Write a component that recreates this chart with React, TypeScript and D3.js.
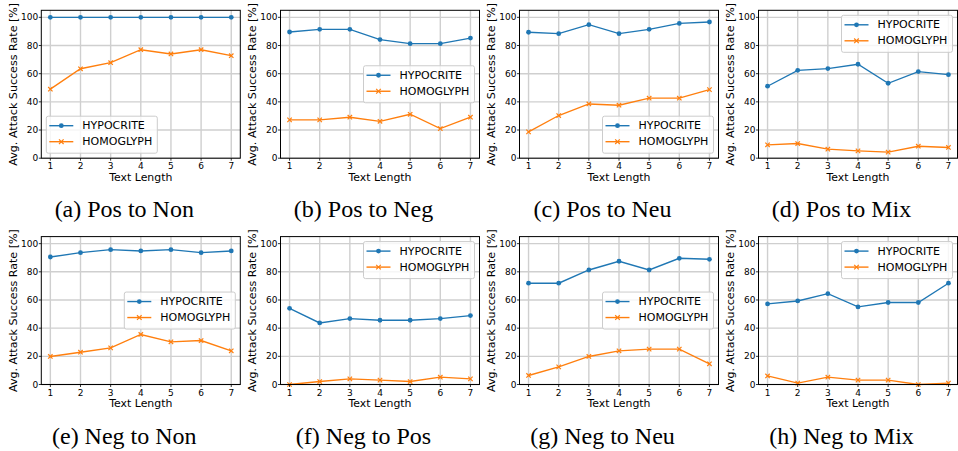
import React from "react";
import * as d3 from "d3";

// x values (text length)
const textLengths = [1, 2, 3, 4, 5, 6, 7];
const yTicks = [0, 20, 40, 60, 80, 100];

// attack success rate per panel
const hypPosNon = [100, 100, 100, 100, 100, 100, 100];
const homPosNon = [49, 63.5, 67.8, 77, 74, 77, 72.8];
const hypPosNeg = [89.6, 91.5, 91.5, 84.2, 81.3, 81.3, 85.3];
const homPosNeg = [27.2, 27.2, 29.1, 26.2, 31.2, 21, 29.1];
const hypPosNeu = [89.4, 88.4, 94.8, 88.4, 91.5, 95.7, 96.7];
const homPosNeu = [18.7, 30.3, 38.5, 37.6, 42.6, 42.6, 48.7];
const hypPosMix = [51.1, 62.4, 63.6, 66.7, 53.2, 61.5, 59.3];
const homPosMix = [9.5, 10.4, 6.4, 5.2, 4.3, 8.5, 7.6];
const hypNegNon = [90.5, 93.6, 95.7, 94.8, 95.7, 93.6, 94.8];
const homNegNon = [19.9, 22.9, 26, 35.5, 30.3, 31.2, 23.9];
const hypNegPos = [54.1, 43.7, 46.8, 45.6, 45.6, 46.8, 48.9];
const homNegPos = [0, 2.1, 4, 3.1, 2.1, 5.2, 4];
const hypNegNeu = [71.9, 71.9, 81.3, 87.5, 81.3, 89.6, 88.9];
const homNegNeu = [6.4, 12.5, 19.9, 23.9, 25.1, 25.1, 14.7];
const hypNegMix = [57.2, 59.3, 64.5, 55.1, 58.2, 58.2, 71.9];
const homNegMix = [6.1, 1, 5.2, 3.1, 3.1, 0, 1];

const captions = [
  "(a) Pos to Non", "(b) Pos to Neg", "(c) Pos to Neu", "(d) Pos to Mix",
  "(e) Neg to Non", "(f) Neg to Pos", "(g) Neg to Neu", "(h) Neg to Mix",
];
const hypSeries = [hypPosNon, hypPosNeg, hypPosNeu, hypPosMix, hypNegNon, hypNegPos, hypNegNeu, hypNegMix];
const homSeries = [homPosNon, homPosNeg, homPosNeu, homPosMix, homNegNon, homNegPos, homNegNeu, homNegMix];
const legendLocs = [
  "lower left", "center right", "lower right", "upper right",
  "center right", "upper right", "center right", "upper right",
];

const BLUE = "#1f77b4";
const ORANGE = "#ff7f0e";
const SANS = "'DejaVu Sans', sans-serif";

const colLefts = [41.3, 280.5, 519.5, 758.5];
const rowTops = [10.3, 236.6];
const W = 199;
const H = 147.9;

const Legend = ({ loc, x0, x1, y0, y1 }) => {
  const bw = 111, bh = 37, pad = 5;
  let bx = x1 - pad - bw;
  let by = y0 + pad;
  if (loc === "lower left") { bx = x0 + pad; by = y1 - pad - bh; }
  if (loc === "lower right") { by = y1 - pad - bh; }
  if (loc === "center right") { by = (y0 + y1) / 2 - bh / 2; }
  const rows = [
    { label: "HYPOCRITE", color: BLUE, marker: "o" },
    { label: "HOMOGLYPH", color: ORANGE, marker: "x" },
  ];
  return (
    <g transform={`translate(${bx},${by})`}>
      <rect width={bw} height={bh} rx={2} fill="white" fillOpacity={0.8} stroke="#cccccc" strokeWidth={1} />
      {rows.map((r, i) => {
        const cy = 9.5 + i * 16;
        return (
          <g key={r.label}>
            <line x1={3} x2={27} y1={cy} y2={cy} stroke={r.color} strokeWidth={1.4} />
            {r.marker === "o" ? (
              <circle cx={15} cy={cy} r={2.4} fill={r.color} />
            ) : (
              <path d={`M12.7,${cy - 2.3}L17.3,${cy + 2.3}M12.7,${cy + 2.3}L17.3,${cy - 2.3}`} stroke={r.color} strokeWidth={1.2} />
            )}
            <text x={36} y={cy} dominantBaseline="central" fontFamily={SANS} fontSize={11} fill="#000">{r.label}</text>
          </g>
        );
      })}
    </g>
  );
};

const Panel = ({ idx }) => {
  const left = colLefts[idx % 4];
  const top = rowTops[Math.floor(idx / 4)];
  const x = d3.scaleLinear().domain([0.7, 7.3]).range([left, left + W]);
  const y = d3.scaleLinear().domain([0, 105]).range([top + H, top]);
  const bottom = top + H;
  const line = d3.line<number>().x((d, i) => x(textLengths[i])).y((d) => y(d));
  const hyp = hypSeries[idx];
  const hom = homSeries[idx];
  return (
    <g>
      {/* grid */}
      {textLengths.map((t) => (
        <line key={"gx" + t} x1={x(t)} x2={x(t)} y1={top} y2={bottom} stroke="#cfcfcf" strokeWidth={1.4} />
      ))}
      {yTicks.map((t) => (
        <line key={"gy" + t} x1={left} x2={left + W} y1={y(t)} y2={y(t)} stroke="#cfcfcf" strokeWidth={1.4} />
      ))}
      {/* series */}
      <path d={line(hyp) || ""} fill="none" stroke={BLUE} strokeWidth={1.35} />
      {hyp.map((v, i) => (
        <circle key={"h" + i} cx={x(textLengths[i])} cy={y(v)} r={2.4} fill={BLUE} />
      ))}
      <path d={line(hom) || ""} fill="none" stroke={ORANGE} strokeWidth={1.35} />
      {hom.map((v, i) => {
        const cx = x(textLengths[i]);
        const cy = y(v);
        const s = 2.2;
        return (
          <path key={"m" + i} d={`M${cx - s},${cy - s}L${cx + s},${cy + s}M${cx - s},${cy + s}L${cx + s},${cy - s}`} stroke={ORANGE} strokeWidth={1.2} />
        );
      })}
      {/* spines */}
      <rect x={left} y={top} width={W} height={H} fill="none" stroke="#000" strokeWidth={1} />
      {/* ticks */}
      {textLengths.map((t) => (
        <g key={"tx" + t}>
          <line x1={x(t)} x2={x(t)} y1={bottom} y2={bottom + 2.5} stroke="#000" strokeWidth={0.8} />
          <text x={x(t)} y={bottom + 8} textAnchor="middle" dominantBaseline="central" fontFamily={SANS} fontSize={9} fill="#000">{t}</text>
        </g>
      ))}
      {yTicks.map((t) => (
        <g key={"ty" + t}>
          <line x1={left - 2.5} x2={left} y1={y(t)} y2={y(t)} stroke="#000" strokeWidth={0.8} />
          <text x={left - 3} y={y(t)} textAnchor="end" dominantBaseline="central" fontFamily={SANS} fontSize={9} fill="#000">{t}</text>
        </g>
      ))}
      <text x={left + W / 2} y={bottom + 19} textAnchor="middle" dominantBaseline="central" fontFamily={SANS} fontSize={10.9} fill="#000">Text Length</text>
      <text transform={`translate(${left - 28},${(top + bottom) / 2}) rotate(-90)`} textAnchor="middle" dominantBaseline="central" fontFamily={SANS} fontSize={11.1} fill="#000">Avg. Attack Success Rate [%]</text>
      <Legend loc={legendLocs[idx]} x0={left} x1={left + W} y0={top} y1={bottom} />
      <text x={left + 83} y={bottom + 59} textAnchor="middle" fontFamily="'Liberation Serif', 'Times New Roman', serif" fontSize={24} fill="#000">{captions[idx]}</text>
    </g>
  );
};

export default function App() {
  return (
    <svg width={958} height={451} style={{ position: "absolute", left: 0, top: 0, background: "white" }}>
      <rect width={958} height={451} fill="white" />
      {captions.map((c, i) => (
        <Panel key={c} idx={i} />
      ))}
    </svg>
  );
}
